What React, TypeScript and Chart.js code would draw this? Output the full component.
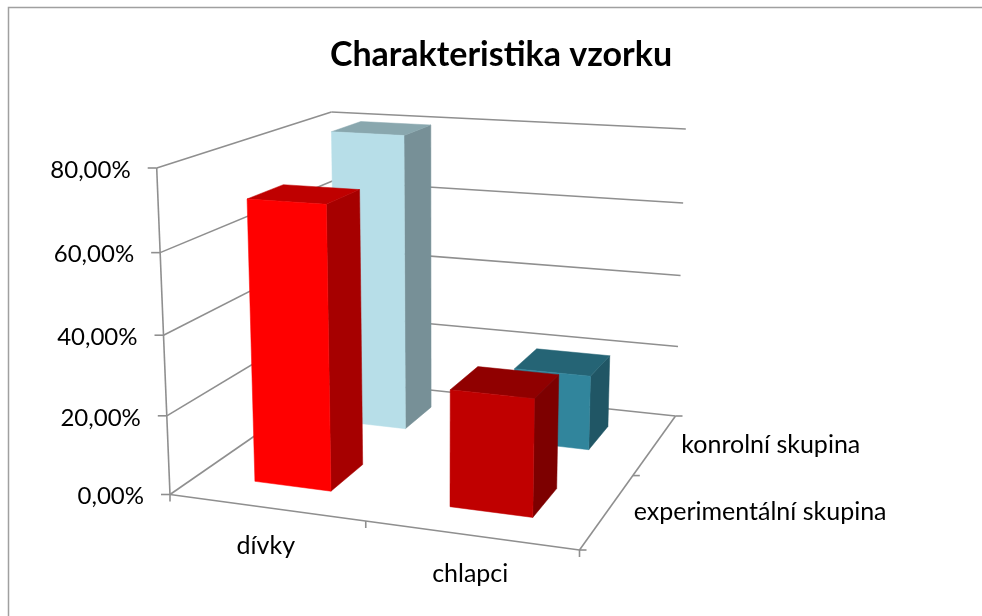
import React, { useEffect, useRef } from "react";
import { Chart, registerables } from "chart.js";

Chart.register(...registerables);

const categories = ["dívky", "chlapci"];
const seriesNames = ["experimentální skupina", "konrolní skupina"];
const experimental = [71, 29];
const control = [80, 20];
const experimentalColors = ["#FF0000", "#C00000"];
const controlColors = ["#B7DEE8", "#31859C"];
const chartTitle = "Charakteristika vzorku";

// Camera calibration: where the plot box's corners land in the picture.
type P = [number, number];
const FL: P = [170, 494.5];
const FR: P = [579.5, 550];
const BL: P = [335.5, 380];
const BR: P = [675.5, 416];
const FLT: P = [156.7, 168];
const BLT: P = [330, 112];

function det3(m: number[][]) {
  return (
    m[0][0] * (m[1][1] * m[2][2] - m[1][2] * m[2][1]) -
    m[0][1] * (m[1][0] * m[2][2] - m[1][2] * m[2][0]) +
    m[0][2] * (m[1][0] * m[2][1] - m[1][1] * m[2][0])
  );
}

function makeProjector() {
  const O = [FL[0], FL[1], 1];
  const M = [
    [FR[0], BL[0], -BR[0]],
    [FR[1], BL[1], -BR[1]],
    [1, 1, -1],
  ];
  const D = det3(M);
  const col = (k: number) => M.map((r, i) => r.map((c, j) => (j === k ? O[i] : c)));
  const alpha = det3(col(0)) / D;
  const beta = det3(col(1)) / D;
  const A = [alpha * FR[0] - O[0], alpha * FR[1] - O[1], alpha - 1];
  const B = [beta * BL[0] - O[0], beta * BL[1] - O[1], beta - 1];
  // kappa*FLT - s*BLT = O - beta*BL, from y and w components
  const r1 = O[1] - beta * BL[1];
  const r2 = 1 - beta;
  const kappa = (r1 - r2 * BLT[1]) / (FLT[1] - BLT[1]);
  const C = [kappa * FLT[0] - O[0], kappa * FLT[1] - O[1], kappa - 1];
  return (u: number, d: number, v: number): P => {
    const x = O[0] + u * A[0] + d * B[0] + v * C[0];
    const y = O[1] + u * A[1] + d * B[1] + v * C[1];
    const w = O[2] + u * A[2] + d * B[2] + v * C[2];
    return [x / w, y / w];
  };
}

function shade(hex: string, f: number) {
  const n = parseInt(hex.slice(1), 16);
  const c = [(n >> 16) & 255, (n >> 8) & 255, n & 255].map((a) => Math.round(a * f));
  return `rgb(${c[0]},${c[1]},${c[2]})`;
}

const LINE = "#8f8f8f";
const FONT = "Lato";
const DEPTH_FILL = 0.4;

const box3d = {
  id: "box3d",
  beforeDatasetsDraw(chart: any) {
    const { ctx, chartArea: a, scales } = chart;
    const project = makeProjector();
    const toU = (px: number) => (px - a.left) / a.width;
    const toV = (py: number) => (a.bottom - py) / a.height;
    const seg = (p: P, q: P) => {
      ctx.beginPath();
      ctx.moveTo(p[0], p[1]);
      ctx.lineTo(q[0], q[1]);
      ctx.stroke();
    };
    ctx.save();

    // page frame
    ctx.strokeStyle = "#a0a0a0";
    ctx.lineWidth = 1.5;
    ctx.beginPath();
    ctx.moveTo(8.5, 616);
    ctx.lineTo(8.5, 7.5);
    ctx.lineTo(982, 7.5);
    ctx.stroke();

    // walls, gridlines and value ticks
    ctx.strokeStyle = LINE;
    ctx.lineWidth = 1.6;
    ctx.font = `24px ${FONT}`;
    ctx.fillStyle = "#000";
    ctx.textBaseline = "middle";
    ctx.textAlign = "right";
    scales.y.ticks.forEach((t: any) => {
      const v = toV(scales.y.getPixelForValue(t.value));
      const f = project(0, 0, v);
      const b = project(0, 1, v);
      const r = project(1, 1, v);
      seg(f, b);
      seg(b, r);
      seg([f[0] - 9, f[1]], f);
      ctx.fillText(t.label, f[0] - 26, f[1] + 2);
    });
    seg(project(0, 0, 0), project(0, 0, 1));

    // floor
    seg(project(0, 0, 0), project(1, 0, 0));
    seg(project(1, 0, 0), project(1, 1, 0));

    // axis ticks and labels
    [0, 0.5, 1].forEach((u) => {
      const p = project(u, 0, 0);
      seg(p, [p[0], p[1] + 7]);
    });
    [0, 0.5, 1].forEach((d) => {
      const p = project(1, d, 0);
      seg(p, [p[0] + 7, p[1]]);
    });
    ctx.textAlign = "center";
    ctx.font = `25px ${FONT}`;
    chart.data.labels.forEach((label: string, i: number) => {
      const p = project(toU(scales.x.getPixelForValue(i)), 0, 0);
      ctx.fillText(label, p[0], p[1] + 38.5);
    });
    ctx.textAlign = "left";
    chart.data.datasets.forEach((ds: any, i: number) => {
      const p = project(1, (i + 0.5) / chart.data.datasets.length, 0);
      ctx.fillText(ds.label, p[0] + 26, p[1] + 1);
    });

    // bars, back row first
    const n = chart.data.datasets.length;
    for (let i = n - 1; i >= 0; i--) {
      const ds = chart.data.datasets[i];
      const d0 = (i + 0.5) / n - (0.5 * DEPTH_FILL) / n;
      const d1 = (i + 0.5) / n + (0.5 * DEPTH_FILL) / n;
      chart.getDatasetMeta(i).data.forEach((el: any, j: number) => {
        const u0 = toU(el.x - el.width / 2);
        const u1 = toU(el.x + el.width / 2);
        const v0 = toV(el.base);
        const v1 = toV(el.y);
        const col = ds.backgroundColor[j];
        const face = (pts: P[], fill: string) => {
          ctx.fillStyle = fill;
          ctx.strokeStyle = fill;
          ctx.lineWidth = 0.5;
          ctx.beginPath();
          pts.forEach((p, k) => (k ? ctx.lineTo(p[0], p[1]) : ctx.moveTo(p[0], p[1])));
          ctx.closePath();
          ctx.fill();
          ctx.stroke();
        };
        face(
          [project(u1, d0, v0), project(u1, d1, v0), project(u1, d1, v1), project(u1, d0, v1)],
          shade(col, 0.65),
        );
        face(
          [project(u0, d0, v1), project(u1, d0, v1), project(u1, d1, v1), project(u0, d1, v1)],
          shade(col, 0.75),
        );
        face(
          [project(u0, d0, v0), project(u1, d0, v0), project(u1, d0, v1), project(u0, d0, v1)],
          col,
        );
      });
    }
    ctx.restore();
    return false;
  },
};

export default function App() {
  const ref = useRef<HTMLCanvasElement>(null);
  useEffect(() => {
    const chart = new Chart(ref.current!, {
      type: "bar",
      data: {
        labels: categories,
        datasets: [
          { label: seriesNames[0], data: experimental, backgroundColor: experimentalColors },
          { label: seriesNames[1], data: control, backgroundColor: controlColors },
        ],
      },
      options: {
        responsive: false,
        animation: false,
        layout: { padding: { left: 20 } },
        datasets: { bar: { grouped: false, categoryPercentage: 1, barPercentage: 0.4 } },
        scales: {
          x: { display: false },
          y: {
            display: false,
            min: 0,
            max: 80,
            ticks: {
              stepSize: 20,
              callback: (v: any) => `${Number(v).toFixed(2).replace(".", ",")}%`,
            },
          },
        },
        plugins: {
          legend: { display: false },
          tooltip: { enabled: false },
          title: {
            display: true,
            text: chartTitle,
            color: "#000",
            font: { family: FONT, size: 34, weight: "bold" },
            padding: { top: 35, bottom: 10 },
          },
        },
      },
      plugins: [box3d],
    } as any);
    return () => chart.destroy();
  }, []);
  return (
    <canvas
      ref={ref}
      width={982}
      height={616}
      style={{ position: "absolute", left: 0, top: 0, background: "#fff" }}
    />
  );
}
